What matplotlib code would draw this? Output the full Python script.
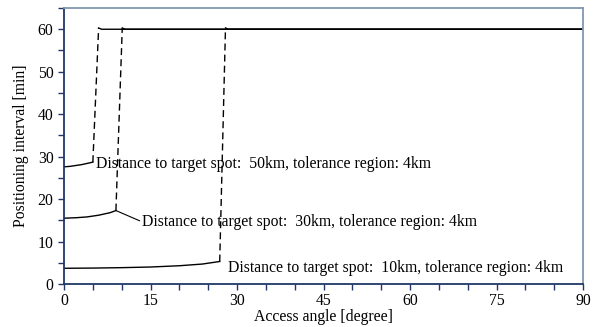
import matplotlib.pyplot as plt
import numpy as np

plt.rcParams['font.family'] = ['Liberation Serif', 'DejaVu Serif']

# 50 km
a50 = np.array([0, 1, 2, 3, 4, 5])
v50 = np.array([27.6, 27.7, 27.9, 28.1, 28.4, 28.7])
a50_up = np.array([5, 6.0])
v50_up = np.array([28.7, 60.3])
a50_top = np.array([6.0, 6.5, 90])
v50_top = np.array([60.3, 60.0, 60.0])

# 30 km
a30 = np.array([0, 2, 4, 6, 8, 9])
v30 = np.array([15.5, 15.6, 15.8, 16.2, 16.8, 17.3])
a30_up = np.array([9, 10.1])
v30_up = np.array([17.3, 60.3])
a30_top = np.array([10.1, 10.6, 90])
v30_top = np.array([60.3, 60.0, 60.0])

# 10 km
a10 = np.array([0, 5, 10, 15, 20, 24, 27])
v10 = np.array([3.7, 3.75, 3.85, 4.0, 4.3, 4.7, 5.3])
a10_up = np.array([27, 28.0])
v10_up = np.array([5.3, 60.3])
a10_top = np.array([28.0, 28.5, 90])
v10_top = np.array([60.3, 60.0, 60.0])

labels = ['Distance to target spot:  50km, tolerance region: 4km',
          'Distance to target spot:  30km, tolerance region: 4km',
          'Distance to target spot:  10km, tolerance region: 4km']

fs = 11.3

fig = plt.figure(figsize=(6, 3.27), dpi=100)
ax = fig.add_axes([0.1067, 0.1315, 0.865, 0.844])

for a, v, au, vu, at, vt in [(a50, v50, a50_up, v50_up, a50_top, v50_top),
                             (a30, v30, a30_up, v30_up, a30_top, v30_top),
                             (a10, v10, a10_up, v10_up, a10_top, v10_top)]:
    ax.plot(a, v, color='black', lw=1)
    ax.plot(au, vu, color='black', lw=1, ls=(0, (5, 3)))
    ax.plot(at, vt, color='black', lw=1)

ax.text(5.6, 28.3, labels[0], fontsize=fs, va='center', ha='left')
ax.annotate(labels[1], xy=(9, 17.3), xytext=(13.6, 14.6), fontsize=fs,
            va='center', ha='left',
            arrowprops=dict(arrowstyle='-', color='black', lw=0.8,
                            shrinkA=0, shrinkB=0, relpos=(0, 0.5)))
ax.text(28.4, 3.8, labels[2], fontsize=fs, va='center', ha='left')

ax.set_xlim(0, 90)
ax.set_ylim(0, 65)
ax.set_xticks(np.arange(0, 91, 15))
ax.set_xticks(np.arange(0, 91, 5), minor=True)
ax.set_yticks(np.arange(0, 61, 10))
ax.set_yticks(np.arange(0, 66, 5), minor=True)
ax.tick_params(axis='both', which='both', direction='out', length=4,
               width=1, color='#1f3864', labelsize=fs)
ax.tick_params(axis='x', which='major', pad=2.5)

ax.spines['left'].set_color('#1f3864')
ax.spines['bottom'].set_color('#1f3864')
ax.spines['top'].set_color('#8497b0')
ax.spines['right'].set_color('#8497b0')
for s in ax.spines.values():
    s.set_linewidth(1.3)

ax.set_xlabel('Access angle [degree]', fontsize=fs, labelpad=0)
ax.set_ylabel('Positioning interval [min]', fontsize=fs, labelpad=6)

fig.savefig('out.png', dpi=100)
